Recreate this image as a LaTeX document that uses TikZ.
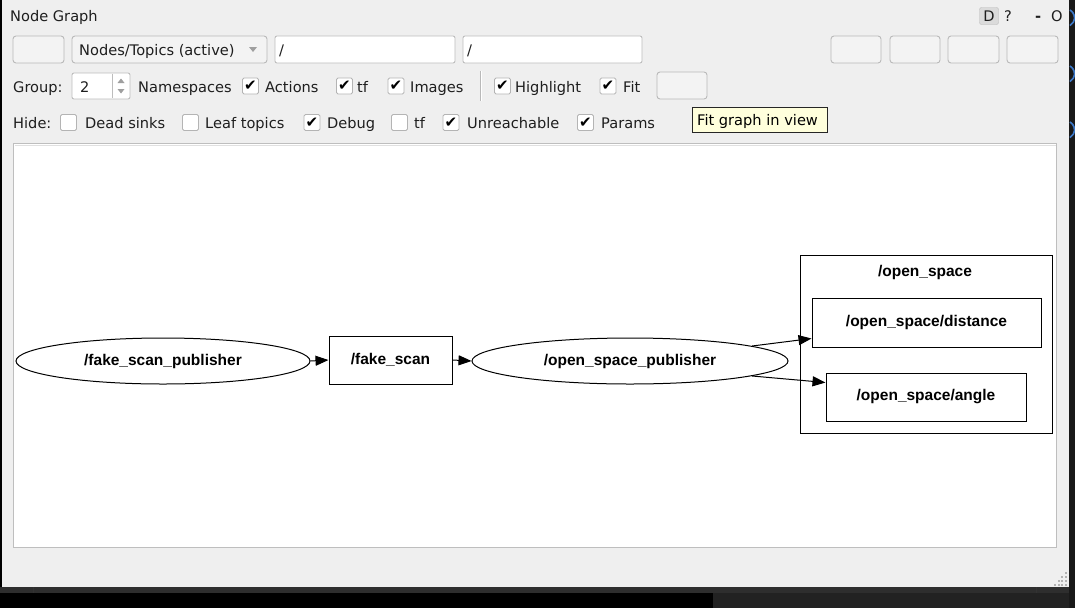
\documentclass[tikz,border=0pt]{standalone}
\usepackage{fontspec}
\setmainfont{DejaVu Sans}
\newfontfamily\gfont{Liberation Sans}
\usetikzlibrary{shapes.geometric,arrows.meta}
\definecolor{winbg}{HTML}{EFEFEF}
\definecolor{uitext}{HTML}{1E1E1E}
\definecolor{btnborder}{HTML}{B9B9B9}
\definecolor{btnfill}{HTML}{F3F3F3}
\definecolor{fieldborder}{HTML}{BDBDBD}
\definecolor{cbborder}{HTML}{B4B4B4}
\definecolor{canvasborder}{HTML}{BEBEBE}
\definecolor{tipfill}{HTML}{FFFFDC}
\definecolor{dkbar}{HTML}{2E2E2E}
\definecolor{dkgray}{HTML}{222222}
\definecolor{arcblue}{HTML}{3C78C8}
\begin{document}
\begin{tikzpicture}[x=1pt,y=-1pt,
  ui/.style={font=\fontsize{14.6}{17}\selectfont, text=uitext, inner sep=0, anchor=base west},
  btn/.style={draw=btnborder, fill=btnfill, rounded corners=3pt, inner sep=0, line width=0.9pt},
  field/.style={draw=fieldborder, fill=white, rounded corners=2pt, inner sep=0, line width=0.9pt},
  cbox/.style={draw=cbborder, fill=white, rounded corners=1.5pt, minimum width=16pt, minimum height=16pt, inner sep=0, line width=0.9pt, font=\fontsize{15}{15}\selectfont, text=black},
  gfnt/.style={font=\gfont\bfseries\fontsize{15.5}{18}\selectfont},
  gell/.style={ellipse, draw, line width=1pt, inner sep=0, gfnt},
  gbox/.style={rectangle, draw, line width=1pt, inner sep=0, gfnt},
  garrow/.style={line width=1pt, -{Triangle[length=13pt,width=10pt]}},
]
\useasboundingbox (0,0) rectangle (1075,608);
% window and surroundings
\fill[black] (0,0) rectangle (1075,608);
\fill[winbg] (2,0) rectangle (1069,587);
\fill[dkbar] (0,587) rectangle (1069,593);
\draw[black!80, line width=0.8pt] (33,587) -- (33,593) (1036,587) -- (1036,593);
\fill[dkgray] (713,593) rectangle (1075,608);
\fill[black!90] (1069,0) rectangle (1075,608);
\draw[arcblue, line width=1.6pt] (1070,10) arc[start angle=60, end angle=-60, radius=9pt];
\draw[arcblue, line width=1.6pt] (1070,66) arc[start angle=60, end angle=-60, radius=9pt];
\draw[arcblue, line width=1.6pt] (1070,122) arc[start angle=60, end angle=-60, radius=9pt];
% resize grip
\foreach \px/\py in {1066/573,1062/577,1066/577,1059/581,1062/581,1066/581,1055/585,1059/585,1062/585,1066/585}
  \fill[gray!60] (\px-0.8,\py-0.8) rectangle (\px+0.8,\py+0.8);

% title row
\node[ui] (title) at (10,21) {Node Graph};
\node[draw=btnborder, fill=black!14, rounded corners=2pt, minimum width=19pt, minimum height=17pt, inner sep=0, font=\fontsize{14.6}{17}\selectfont, text=uitext] (dbtn) at (989,16) {D};
\node[ui] (qm) at (1004,21) {?};
\node[ui, font=\fontsize{14.6}{17}\selectfont\bfseries] (minus) at (1035,21) {-};
\node[ui] (obtn) at (1051,21) {O};

% row 2
\node[btn, minimum width=51pt, minimum height=27pt] (b1) at (38.5,49.5) {};
\node[btn, minimum width=195pt, minimum height=27pt] (combo) at (169.5,49.5) {};
\node[ui] (combotxt) at (79,55) {Nodes/Topics (active)};
\fill[gray!75] (249,47) -- (257,47) -- (253,52) -- cycle;
\node[field, minimum width=180pt, minimum height=27pt] (f1) at (365,49.5) {};
\node[ui] (f1txt) at (279,55) {/};
\node[field, minimum width=179pt, minimum height=27pt] (f2) at (552.5,49.5) {};
\node[ui] (f2txt) at (467,55) {/};
\node[btn, minimum width=50pt, minimum height=27pt] (rb1) at (856,49.5) {};
\node[btn, minimum width=50pt, minimum height=27pt] (rb2) at (915,49.5) {};
\node[btn, minimum width=51pt, minimum height=27pt] (rb3) at (973.5,49.5) {};
\node[btn, minimum width=51pt, minimum height=27pt] (rb4) at (1032.5,49.5) {};

% row 3
\node[ui] (group) at (13,92) {Group:};
\node[field, minimum width=58pt, minimum height=26pt] (spin) at (101,86) {};
\node[ui] (spinval) at (80,92) {2};
\draw[fieldborder, line width=0.8pt] (spin.north) ++(11,1) -- ++(0,24);
\fill[gray!75] (117.5,83) -- (124.5,83) -- (121,78.5) -- cycle;
\fill[gray!75] (117.5,89) -- (124.5,89) -- (121,93.5) -- cycle;
\node[ui] (ns) at (138,92) {Namespaces};
\node[cbox] (cbact) at (250.5,86) {✔};
\node[ui] (act) at (265,92) {Actions};
\node[cbox] (cbtf) at (344.5,86) {✔};
\node[ui] (tf) at (357,92) {tf};
\node[cbox] (cbimg) at (396,86) {✔};
\node[ui] (img) at (410,92) {Images};
\draw[gray!55, line width=0.9pt] (480,71) -- (480,101);
\draw[white, line width=0.9pt] (481,71) -- (481,101);
\node[cbox] (cbhl) at (502.5,86) {✔};
\node[ui] (hl) at (515,92) {Highlight};
\node[cbox] (cbfit) at (608,86) {✔};
\node[ui] (fit) at (623,92) {Fit};
\node[btn, minimum width=50pt, minimum height=27pt] (fitbtn) at (682,85.5) {};

% row 4
\node[ui] (hide) at (13,128) {Hide:};
\node[cbox] (cbds) at (68.5,122.5) {};
\node[ui] (ds) at (85,128) {Dead sinks};
\node[cbox] (cblt) at (190.5,122.5) {};
\node[ui] (lt) at (205,128) {Leaf topics};
\node[cbox] (cbdbg) at (312,122.5) {✔};
\node[ui] (dbg) at (327,128) {Debug};
\node[cbox] (cbtf2) at (399.5,122.5) {};
\node[ui] (tf2) at (414,128) {tf};
\node[cbox] (cbun) at (451,122.5) {✔};
\node[ui] (un) at (467,128) {Unreachable};
\node[cbox] (cbpar) at (585.5,122.5) {✔};
\node[ui] (par) at (601,128) {Params};

% tooltip
\node[draw=black!85, fill=tipfill, minimum width=135pt, minimum height=25pt, inner sep=0, line width=0.8pt] (tip) at (759.5,119.5) {};
\node[ui, text=black] (tiptxt) at (697,125) {Fit graph in view};

% canvas
\fill[white] (13,143) rectangle (1057,548);
\draw[canvasborder, line width=1pt] (13.5,143.5) rectangle (1056.5,547.5);
\draw[black!12, line width=1pt] (14.5,145) -- (1055.5,145);

% graph
\node[gell, minimum width=294pt, minimum height=46pt] (fsp) at (163,361) {/fake\_scan\_publisher};
\node[gbox, minimum width=123pt, minimum height=48pt] (fs) at (390.5,360) {/fake\_scan};
\node[gell, minimum width=316pt, minimum height=46pt] (osp) at (630,361) {/open\_space\_publisher};
\node[gbox, minimum width=252pt, minimum height=178pt] (cl) at (926,344) {};
\node[gfnt, inner sep=0] (cllbl) at (925,272) {/open\_space};
\node[gbox, minimum width=229pt, minimum height=49pt] (dist) at (926.5,322.5) {/open\_space/distance};
\node[gbox, minimum width=200pt, minimum height=48pt] (ang) at (926,397) {/open\_space/angle};

\draw[garrow] (fsp.east) -- (fs.west);
\draw[garrow] (fs.east) -- (osp.west);
\draw[garrow] (osp.7.5) -- ([yshift=9pt]dist.south west);
\draw[garrow] (osp.-7) -- ([yshift=-10pt]ang.north west);
\end{tikzpicture}
\end{document}
